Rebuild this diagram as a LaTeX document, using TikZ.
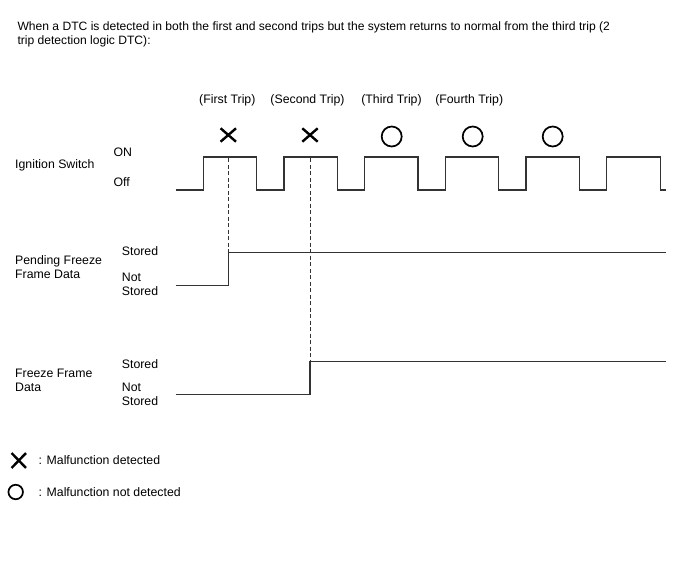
\documentclass[tikz,border=0pt]{standalone}
\usepackage{fontspec}
\setmainfont{Liberation Sans}
\usetikzlibrary{shapes.misc,positioning}

\begin{document}
\begin{tikzpicture}[x=1pt, y=-1pt,
    txt/.style={anchor=base west, inner sep=0pt, align=left, font=\fontsize{12.3}{14}\selectfont},
    trip/.style={anchor=base, inner sep=0pt, font=\fontsize{12.3}{14}\selectfont},
    wave/.style={line width=1.3pt, black!80},
    guide/.style={line width=0.8pt, dash pattern=on 4pt off 2.5pt, black!80},
    xsym/.style={cross out, draw, line width=2.4pt, minimum width=13pt, minimum height=11pt, inner sep=0pt},
    osym/.style={circle, draw, line width=1.7pt, minimum size=20pt, inner sep=0pt}
]
\useasboundingbox (0,0) rectangle (688,560);

\node[txt, font=\fontsize{12.1}{14.3}\selectfont] (title) at (17.3,44.3) {When a DTC is detected in both the first and second trips but the system returns to normal from the third trip (2\\trip detection logic DTC):};

% trips
\node[trip] (trip1) at (227.3,103.3) {(First Trip)};
\node[trip] (trip2) at (307.5,103.3) {(Second Trip)};
\node[trip] (trip3) at (391.5,103.3) {(Third Trip)};
\node[trip] (trip4) at (469.2,103.3) {(Fourth Trip)};
\node[xsym] (det1) at (228.3,135) {};
\node[xsym] (det2) at (310,135) {};
\node[osym] (ok1) at (391.7,136.5) {};
\node[osym] (ok2) at (472.7,136.5) {};
\node[osym] (ok3) at (552.7,136.5) {};

% ignition switch
\node[txt] (ign) at (15,168.3) {Ignition Switch};
\node[txt] (on) at (113.3,156.7) {ON};
\node[txt] (off) at (113.3,186.7) {Off};
\draw[wave] (175.7,190) foreach \i in {0,...,5} {
    -- ({203.3+80.7*\i},190) |- ({256.7+80.7*\i},157) -- ({256.7+80.7*\i},190)
  } -- (665.7,190);

% pending freeze frame data
\node[txt] (pffd) at (15,278.3) {Pending Freeze\\Frame Data};
\node[txt] (pst) at (121.7,255) {Stored};
\node[txt] (pnst) at (121.7,295.7) {Not\\Stored};
\coordinate (pstep) at (228.3,252.7);
\draw[wave] (175.7,285.7) -| (pstep) -- (665.7,252.7);

% freeze frame data
\node[txt] (ffd) at (15,391.7) {Freeze Frame\\Data};
\node[txt] (fst) at (121.7,368.3) {Stored};
\node[txt] (fnst) at (121.7,405) {Not\\Stored};
\coordinate (fstep) at (310,361.7);
\draw[wave] (175.7,394.3) -| (fstep) -- (665.7,361.7);

% guides
\coordinate (g1) at (228.3,158);
\coordinate (g2) at (310,158);
\draw[guide] (g1) -- (pstep);
\draw[guide] (g2) -- (fstep);

% legend
\node[xsym, minimum width=12pt, minimum height=12.5pt] (legx) at (18.8,460.5) {};
\node[txt] (legxt) at (38.5,464) {: Malfunction detected};
\node[osym, minimum size=14.5pt] (lego) at (15.7,492) {};
\node[txt] (legot) at (38.5,496) {: Malfunction not detected};
\end{tikzpicture}
\end{document}
